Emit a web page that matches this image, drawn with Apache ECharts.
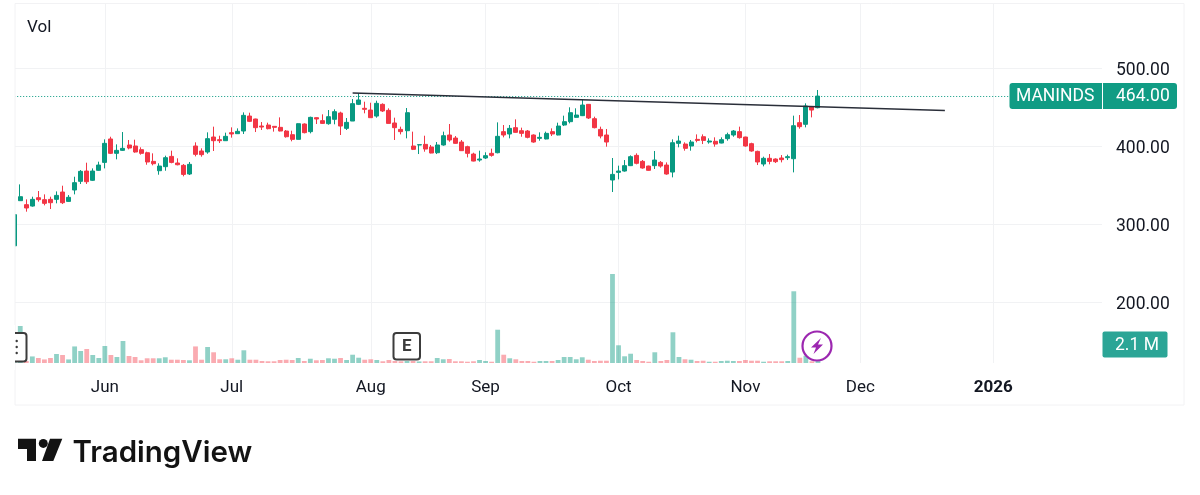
<!DOCTYPE html>
<html>
<head>
<meta charset="utf-8">
<title>MANINDS</title>
<style>
  html, body { margin: 0; padding: 0; background: #fff; }
  #chart { width: 1200px; height: 495px; }
</style>
<script src="https://cdn.jsdelivr.net/npm/echarts@6/dist/echarts.min.js"></script>
</head>
<body>
<div id="chart"></div>
<script>
// daily candles
const opens = [272,329.9,324.8,323,333.7,331.2,331.6,331.6,341,329,
  343.6,354.7,367.9,356,368.8,379,409,390.6,394.4,401.3,
  400,395.3,391.4,380.3,368.3,373.5,386.7,378.2,375.2,364.1,
  400,393.6,392.3,411.5,408.1,406.8,417.1,415.8,419.2,438.4,
  434.6,425.6,426.9,425.2,423.9,419.2,414.5,408.5,428.2,418.4,
  436.3,432.5,428.6,434.2,442.3,422.6,432,453.4,448.3,446.1,
  438.4,453.4,445.7,429.5,421.3,419.6,400,401.3,402.1,398.7,
  391.4,401.3,414.1,410.2,405.1,399.1,389.7,382,384.6,390.6,
  391.4,418.4,415.4,423.5,419.6,419.2,414.1,409.8,409,418.4,
  414.1,426.9,431.2,436.7,438.9,453.4,435,421.3,414.1,356.4,
  366.2,367.9,374.8,388,380.3,374.3,374.8,379,375.6,366.6,
  403.4,402.5,400,408.5,411.9,405.1,406,403.8,409.4,414.1,
  418.4,411.5,403,393.1,376.9,384.2,383.3,384.6,385,383.7,
  429.9,427.8,450.4,449.1];
const closes = [312,335,320.5,331.6,331.2,326.5,327.3,336.7,327.3,334.2,
  353,367.5,354.2,367.9,375.6,403.4,390.6,394.4,397,397.4,
  392.3,390.6,379.5,377.3,374.3,385,379,376,363.6,376.5,
  389.3,388.9,409.4,406.8,406.8,412.4,415.4,418.8,439.3,431.6,
  423.5,424.3,422.2,423.9,419.2,411.9,408.5,428.6,417.1,436.7,
  434.6,429,437.6,444,425.6,430.3,454.3,459,447,436.3,
  454.7,444.9,429,423.5,418.4,442.7,395.7,401.7,396.1,391,
  401.3,413.2,407.7,403.4,394,390.6,380.7,383.3,387.6,388,
  412.4,414.1,422.6,417.5,416.2,411.1,405.1,411.1,416.2,415.4,
  425.6,431.2,442.7,439.7,452.5,435.9,423.5,412.8,405.1,363.6,
  367.9,374.8,386.3,377.8,371.8,368.8,382,374.3,364.1,404.2,
  406.4,397,405.1,407.2,407.2,406.4,402.5,408.1,414.5,419.2,
  410.7,400,393.6,379.5,384.2,380.3,379.9,382.5,386.3,426,
  424.8,451.3,446.1,464];
const lows = [238,329.9,315.8,322.2,328.6,323.9,319.2,326.5,325.6,328.6,
  338,351.3,351.3,355.1,368.3,371.3,389.7,382.9,393.6,395.7,
  391.4,388.9,376,375.2,363.2,368.3,377.8,375.2,361.1,362.8,
  386.7,386.3,390.1,393.6,403.8,406.4,410.7,415.4,415.4,430.7,
  417.9,420.5,421.3,418.4,418.8,410.7,406,408.5,416.2,416.2,
  428.2,428.6,427.3,427.8,414.1,420.5,432,452.5,441.9,436.3,
  436.3,443.6,429,407.7,414.9,409.8,394.8,389.7,392.7,390.6,
  389.7,400.4,405.5,403,393.6,385.4,380.3,379.9,383.3,386.3,
  390.6,411.1,409.8,417.1,411.9,409.8,404.2,406.8,408.5,412.8,
  413.7,425.6,429,436.3,438.4,434.6,422.6,409.8,399.1,341,
  357.2,367.1,374.3,376.5,370.9,368.3,370.5,372.2,363.2,359.8,
  398.3,394,394,404.7,402.5,403,399.1,403.4,406.8,411.9,
  409.4,399.1,392.7,375.6,373.9,376.5,378.2,379,382,366.2,
  422.2,423.9,436.7,448.3];
const highs = [315,350.8,331.6,335,342.3,338,335,341.8,349.1,337.1,
  360.6,369.2,378.6,371.3,379.9,408.5,411.9,402.1,417.9,407.7,
  408.1,398.3,392.7,390.6,377.8,387.6,394,384.2,376.9,379.5,
  404.7,397,417.5,424.8,413.2,417.1,423.9,422.6,443.1,442.7,
  435,430.7,429.9,425.6,436.7,420.5,419.6,429,429,437.6,
  436.7,440.6,446.1,447,444,435.9,460.2,467.5,456.8,455.5,
  458.1,454.7,448.3,436.3,424.8,448.7,418.4,402.1,413.2,401.3,
  405.1,418.4,428.2,412.8,407.7,400.4,391.4,394,391.9,396.6,
  430.3,426.9,426.9,434.2,423.5,420.5,414.9,417.5,418.4,422.6,
  429.9,438.9,449.6,448.3,459.8,453.8,437.6,424.8,421.8,384.6,
  374.8,382,388,390.6,382,374.8,393.6,380.7,379,408.5,
  413.2,404.7,407.7,414.9,414.9,409.8,411.1,411.1,417.1,420.5,
  424.8,411.9,404.2,394,386.3,389.7,384.2,388.4,388.9,438.9,
  439.7,454.7,451.3,471.8];
// volume in millions
const volumes = [3.5,25.9,1.4,4.6,3.5,2.5,3.5,6.3,5.6,2.5,
  11.6,8.4,9.8,5.6,3.5,11.9,5.6,4.2,15.4,4.9,
  4.2,1.9,3.3,3.3,3.3,4,2.3,2.3,2.1,1.9,
  11.6,2.3,11.2,7.5,2.6,2.6,3.3,2.3,8.9,2.3,
  2.3,1.4,1.2,1.2,2.1,2.3,2.1,3.5,1.4,3,
  1.9,2.1,3.3,3,3.5,2.1,5.8,3.7,2.3,2.6,
  2.1,1.2,2.1,1.4,1.2,1.4,1.4,1.1,1.2,1.2,
  3.5,2.6,2.8,1.2,1.2,0.9,1.2,2.1,1.4,0.9,
  23.3,5.8,3.3,2.6,1.4,1.4,0.9,1.4,1.4,1.4,
  2.1,4.2,4.2,2.6,4,2.3,1.4,1.6,1.6,62.3,
  12.4,4.7,6.5,2.1,1.4,0.9,7.5,1.4,2.1,21.5,
  4.2,2.6,2.3,1.4,1.6,0.9,0.9,1.4,1.6,1.4,
  1.4,2.1,1.6,1.6,0.9,1.2,1.2,1.2,1.4,50.2,
  3.7,5.1,1.2,2.1];

// month ticks: bar index -> label
const tickIndexes = [15, 36, 59, 78, 100, 121, 140, 162];
const tickLabels = ["Jun", "Jul", "Aug", "Sep", "Oct", "Nov", "Dec", "2026"];
const priceTicks = [200, 300, 400, 500];
const lastPrice = 464;
const symbolName = "MANINDS";
const volumeLabel = "2.1 M";
// trend line drawn on the chart: [bar index, price]
const trendStart = [56, 468];
const trendEnd = [154, 445.5];

const barCount = 181; // candles plus the empty days to the right
const categories = [];
for (let i = 0; i < barCount; i++) categories.push(String(i));

const UP = "#089981";
const DOWN = "#f23645";
const GRID = "#f1f2f4";
const TEXT = "#131722";
const FONT = "Roboto";

function initChart() {
  const chart = echarts.init(document.getElementById("chart"), null, { renderer: "canvas" });

  const candleData = opens.map((o, i) => [o, closes[i], lows[i], highs[i]]);
  const volumeData = volumes.map((v, i) => ({
    value: v,
    itemStyle: { color: closes[i] >= opens[i] ? "rgba(8,153,129,0.45)" : "rgba(242,54,69,0.42)" }
  }));

  const option = {
    animation: false,
    backgroundColor: "#fff",
    grid: { left: 14.2, right: 98, top: 4, bottom: 132, containLabel: false },
    xAxis: {
      type: "category",
      data: categories,
      boundaryGap: false,
      axisLine: { show: false },
      axisTick: { show: false },
      splitLine: {
        show: true,
        interval: idx => tickIndexes.includes(idx),
        lineStyle: { color: GRID, width: 1 }
      },
      axisLabel: {
        interval: idx => tickIndexes.includes(idx),
        margin: 16,
        fontFamily: FONT,
        fontSize: 17,
        color: TEXT,
        formatter: val => {
          const label = tickLabels[tickIndexes.indexOf(Number(val))];
          return label === "2026" ? "{year|2026}" : label;
        },
        rich: { year: { fontFamily: FONT, fontSize: 17, fontWeight: "bold", color: TEXT } }
      }
    },
    yAxis: [
      {
        type: "value",
        position: "right",
        min: 121.8,
        max: 582.05,
        axisLine: { show: false },
        axisTick: { show: false, customValues: priceTicks },
        splitLine: { show: true, lineStyle: { color: GRID, width: 1 } },
        axisLabel: {
          customValues: priceTicks,
          margin: 14,
          fontFamily: FONT,
          fontSize: 17.5,
          color: TEXT,
          formatter: val => "{p|" + val.toFixed(2) + "}",
          // nudge the text down onto its grid line
          rich: { p: { fontFamily: FONT, fontSize: 17.5, color: TEXT, padding: [5, 0, 0, 0] } }
        }
      },
      {
        // volume pane shares the grid, hidden scale
        type: "value",
        min: 0,
        max: 251.3,
        show: false,
        splitLine: { show: false }
      }
    ],
    series: [
      {
        name: "Vol",
        type: "bar",
        yAxisIndex: 1,
        barWidth: 4.8,
        data: volumeData,
        silent: true,
        z: 1
      },
      {
        name: symbolName,
        type: "candlestick",
        yAxisIndex: 0,
        barWidth: 4.5,
        data: candleData,
        silent: true,
        z: 2,
        itemStyle: {
          color: UP,
          color0: DOWN,
          borderColor: UP,
          borderColor0: DOWN,
          borderWidth: 1
        },
        markLine: {
          silent: true,
          symbol: "none",
          label: { show: false },
          animation: false,
          data: [
            {
              yAxis: lastPrice,
              lineStyle: { color: UP, type: [1, 2], width: 1 }
            },
            [
              { coord: [String(trendStart[0]), trendStart[1]], lineStyle: { color: "#2a2e39", type: "solid", width: 1.4 } },
              { coord: [String(trendEnd[0]), trendEnd[1]] }
            ]
          ]
        }
      }
    ]
  };

  chart.setOption(option);

  // price tag sits on the last price, everything else here is page furniture
  const tagY = chart.convertToPixel({ yAxisIndex: 0 }, lastPrice);
  const box = { fill: "#fff", stroke: "#3c3c3c", lineWidth: 2 };

  chart.setOption({
    graphic: [
      // left margin cover, the first candle is cut by the frame
      { type: "rect", z: 90, silent: true, shape: { x: 0, y: 0, width: 15, height: 410 }, style: { fill: "#fff" } },
      // outer frame
      { type: "rect", z: 91, silent: true, shape: { x: 15, y: 3.5, width: 1169, height: 401.5 },
        style: { fill: "none", stroke: "#f2f2f4", lineWidth: 1 } },
      { type: "text", z: 100, x: 27, y: 19, style: { text: "Vol", font: "17px Roboto", fill: TEXT } },

      // symbol + last price tag
      { type: "rect", z: 100, shape: { x: 1009.5, y: tagY - 13, width: 167.5, height: 26, r: 3 }, style: { fill: "#109c84" } },
      { type: "line", z: 101, shape: { x1: 1102.5, y1: tagY - 13, x2: 1102.5, y2: tagY + 13 }, style: { stroke: "#fff", lineWidth: 1 } },
      { type: "text", z: 101, x: 1016, y: tagY - 8, style: { text: symbolName, font: "17.5px Roboto", fill: "#fff" } },
      { type: "text", z: 101, x: 1116, y: tagY - 8, style: { text: lastPrice.toFixed(2), font: "17.5px Roboto", fill: "#fff" } },

      // volume tag
      { type: "rect", z: 100, shape: { x: 1102.5, y: 331.5, width: 65, height: 26, r: 2 }, style: { fill: "#2ba596" } },
      { type: "text", z: 101, x: 1115, y: 337, style: { text: volumeLabel, font: "17.5px Roboto", fill: "#fff" } },

      // clipped marker on the left edge
      { type: "rect", z: 100, shape: { x: 5, y: 333, width: 21.5, height: 28.5, r: 3 }, style: box },
      { type: "rect", z: 101, shape: { x: 0, y: 325, width: 15, height: 45 }, style: { fill: "#fff" } },
      { type: "circle", z: 102, shape: { cx: 16.7, cy: 341, r: 1.2 }, style: { fill: "#3c3c3c" } },
      { type: "circle", z: 102, shape: { cx: 16.7, cy: 347, r: 1.2 }, style: { fill: "#3c3c3c" } },
      { type: "circle", z: 102, shape: { cx: 16.7, cy: 353, r: 1.2 }, style: { fill: "#3c3c3c" } },

      // earnings marker
      { type: "rect", z: 100, shape: { x: 393.5, y: 333, width: 26.5, height: 26.5, r: 3 }, style: box },
      { type: "text", z: 101, x: 406.7, y: 347, style: { text: "E", font: "bold 17px Roboto", fill: "#3c3c3c", align: "center", verticalAlign: "middle" } },

      // purple flash marker
      { type: "circle", z: 100, shape: { cx: 817, cy: 346, r: 14.5 }, style: { fill: "rgba(255,255,255,0.9)", stroke: "#9c27b0", lineWidth: 2.2 } },
      { type: "polygon", z: 101, shape: { points: [[821, 338], [811, 347.5], [816, 347.5], [813.5, 354], [823, 344.5], [818, 344.5]] }, style: { fill: "#9c27b0" } },

      // TradingView logo
      { type: "polygon", z: 100, shape: { points: [[18, 438.7], [36, 438.7], [36, 461], [27, 461], [27, 449], [18, 449]] }, style: { fill: "#131313" } },
      { type: "circle", z: 100, shape: { cx: 43.3, cy: 443.4, r: 4.5 }, style: { fill: "#131313" } },
      { type: "polygon", z: 100, shape: { points: [[50, 438.7], [62.3, 438.7], [53.3, 461], [42, 461]] }, style: { fill: "#131313" } },
      { type: "text", z: 100, x: 72.5, y: 453, style: { text: "TradingView", font: "600 29.5px Inter", fill: "#131313", verticalAlign: "middle" } }
    ]
  });
}

window.onload = initChart;
</script>
</body>
</html>
